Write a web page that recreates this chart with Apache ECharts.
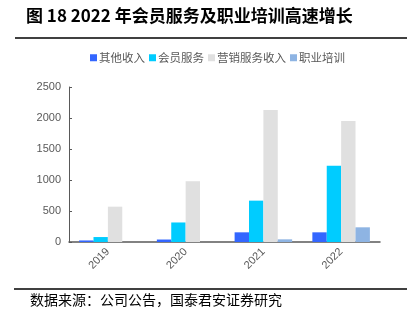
<!DOCTYPE html>
<html><head><meta charset="utf-8">
<script src="https://cdn.jsdelivr.net/npm/echarts@6/dist/echarts.min.js"></script>
<style>html,body{margin:0;padding:0;background:#fff}#c{width:413px;height:325px}</style>
</head><body><div id="c"></div>
<script>
const categories = ['2019', '2020', '2021', '2022'];
const otherIncome = [25, 40, 156, 156];
const memberService = [80, 315, 667, 1231];
const marketingService = [570, 980, 2130, 1952];
const vocationalTraining = [0, 0, 43, 237];
const seriesNames = ['其他收入', '会员服务', '营销服务收入', '职业培训'];
const yTicks = [0, 500, 1000, 1500, 2000, 2500];

const cjk = '"Noto Sans CJK SC", sans-serif';
const chart = echarts.init(document.getElementById('c'));
const colors = ['#3366FF', '#00CCFF', '#E0E0E0', '#8EB4E3'];
const dataSets = [otherIncome, memberService, marketingService, vocationalTraining];
chart.setOption({
  animation: false,
  color: colors,
  graphic: [
    {type: 'text', left: 26, top: 7, style: {text: '图 18 2022 年会员服务及职业培训高速增长', font: 'bold 17px ' + cjk, fill: '#000'}},
    {type: 'line', shape: {x1: 15, y1: 38, x2: 407, y2: 38}, style: {stroke: '#000', lineWidth: 1.5}},
    {type: 'line', shape: {x1: 14, y1: 289, x2: 407, y2: 289}, style: {stroke: '#000', lineWidth: 1.5}},
    {type: 'text', left: 30, top: 293, style: {text: '数据来源：公司公告，国泰君安证券研究', font: '14px ' + cjk, fill: '#000'}}
  ],
  legend: {
    top: 47, left: 85,
    itemWidth: 7, itemHeight: 7, itemGap: 4,
    icon: 'rect',
    textStyle: {fontFamily: cjk, fontSize: 11.5, color: '#595959', padding: [0, 0, 0, -3]},
    data: seriesNames
  },
  grid: {left: 69, right: 33, top: 87, bottom: 83, containLabel: false},
  xAxis: {
    type: 'category', data: categories,
    axisLine: {lineStyle: {color: '#595959', width: 1.5}},
    axisTick: {show: false},
    axisLabel: {rotate: 45, color: '#595959', fontSize: 11, fontFamily: 'Liberation Sans, Arial', margin: 8}
  },
  yAxis: {
    type: 'value', min: 0, max: 2500, interval: 500,
    axisLine: {show: true, lineStyle: {color: '#595959', width: 1}},
    axisTick: {show: true, length: 3, inside: true, lineStyle: {color: '#595959'}},
    splitLine: {show: false},
    axisLabel: {color: '#595959', fontSize: 11, fontFamily: 'Liberation Sans, Arial', margin: 8, formatter: v => String(v)}
  },
  series: seriesNames.map((n, i) => ({
    name: n, type: 'bar', data: dataSets[i],
    barGap: '0%', barCategoryGap: '26%',
    itemStyle: {color: colors[i]}
  }))
});
</script></body></html>
